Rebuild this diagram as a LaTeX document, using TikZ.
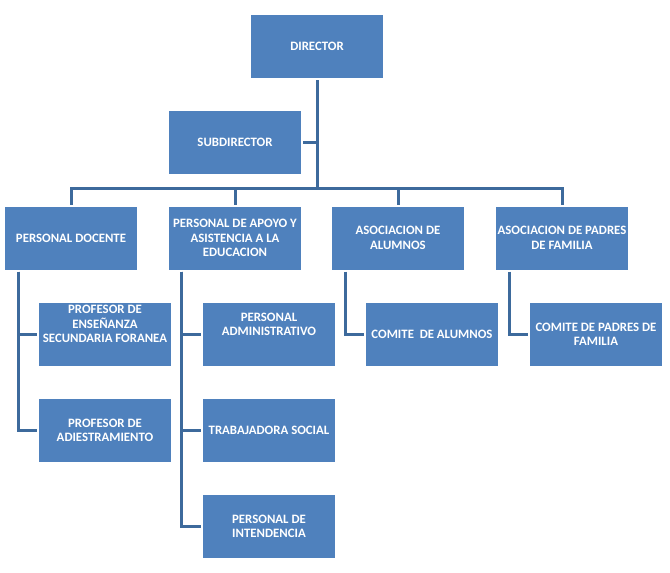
\documentclass[tikz,border=0pt]{standalone}
\usepackage{fontspec}
\setmainfont{Carlito}
\usepackage{tikz}
\usetikzlibrary{positioning, calc}
\definecolor{cajaazul}{HTML}{4F81BD}
\definecolor{lineaazul}{HTML}{3D6A9C}
\tikzset{
  caja/.style={
    rectangle, minimum width=132pt, minimum height=63pt, inner sep=0pt,
    outer sep=2pt, align=center, fill=cajaazul, text=white,
    font=\fontsize{12.8}{14.5}\selectfont\bfseries
  },
  linea/.style={
    draw=lineaazul, line width=3pt
  }
}

\begin{document}
\begin{tikzpicture}[x=1pt, y=-1pt]
\useasboundingbox (0,0) rectangle (670,573);
% nivel superior
\node[caja] (dir) at (317,46.5) {DIRECTOR};
\node[caja] (sub) at (235,142.5) {SUBDIRECTOR};
\coordinate (bus) at (317,188);
% nivel 2
\node[caja] (doc) at (71,238) {PERSONAL DOCENTE};
\node[caja] (apo) at (235,238) {PERSONAL DE APOYO Y\\ASISTENCIA A LA\\EDUCACION};
\node[caja] (alu) at (398,238) {ASOCIACION DE\\ALUMNOS};
\node[caja] (pad) at (562,238) {ASOCIACION DE PADRES\\DE FAMILIA};
% nivel 3
\node[caja] (ens) at (105,334.5) {PROFESOR DE\\ENSEÑANZA\\SECUNDARIA FORANEA\\[6pt]\mbox{}};
\node[caja] (adi) at (105,430.5) {PROFESOR DE\\ADIESTRAMIENTO};
\node[caja] (adm) at (269,334.5) {PERSONAL\\ADMINISTRATIVO\\[6pt]\mbox{}};
\node[caja] (tra) at (269,430.5) {TRABAJADORA SOCIAL};
\node[caja] (int) at (269,526.5) {PERSONAL DE\\INTENDENCIA};
\node[caja] (com) at (432,334.5) {COMITE\ \ DE ALUMNOS};
\node[caja] (cpf) at (596,334.5) {COMITE DE PADRES DE\\FAMILIA};
% conectores
\draw[linea] (dir.south) -- (bus);
\draw[linea] (sub.east) -- (sub.east -| dir.south);
\draw[linea] (doc.north) |- (bus) -| (pad.north);
\draw[linea] (apo.north) -- (apo.north |- bus);
\draw[linea] (alu.north) -- (alu.north |- bus);
\draw[linea] ([xshift=15pt]doc.south west) |- (ens.west);
\draw[linea] ([xshift=15pt]doc.south west) |- (adi.west);
\draw[linea] ([xshift=14pt]apo.south west) |- (adm.west);
\draw[linea] ([xshift=14pt]apo.south west) |- (tra.west);
\draw[linea] ([xshift=14pt]apo.south west) |- (int.west);
\draw[linea] ([xshift=15pt]alu.south west) |- (com.west);
\draw[linea] ([xshift=15pt]pad.south west) |- (cpf.west);
\end{tikzpicture}
\end{document}
